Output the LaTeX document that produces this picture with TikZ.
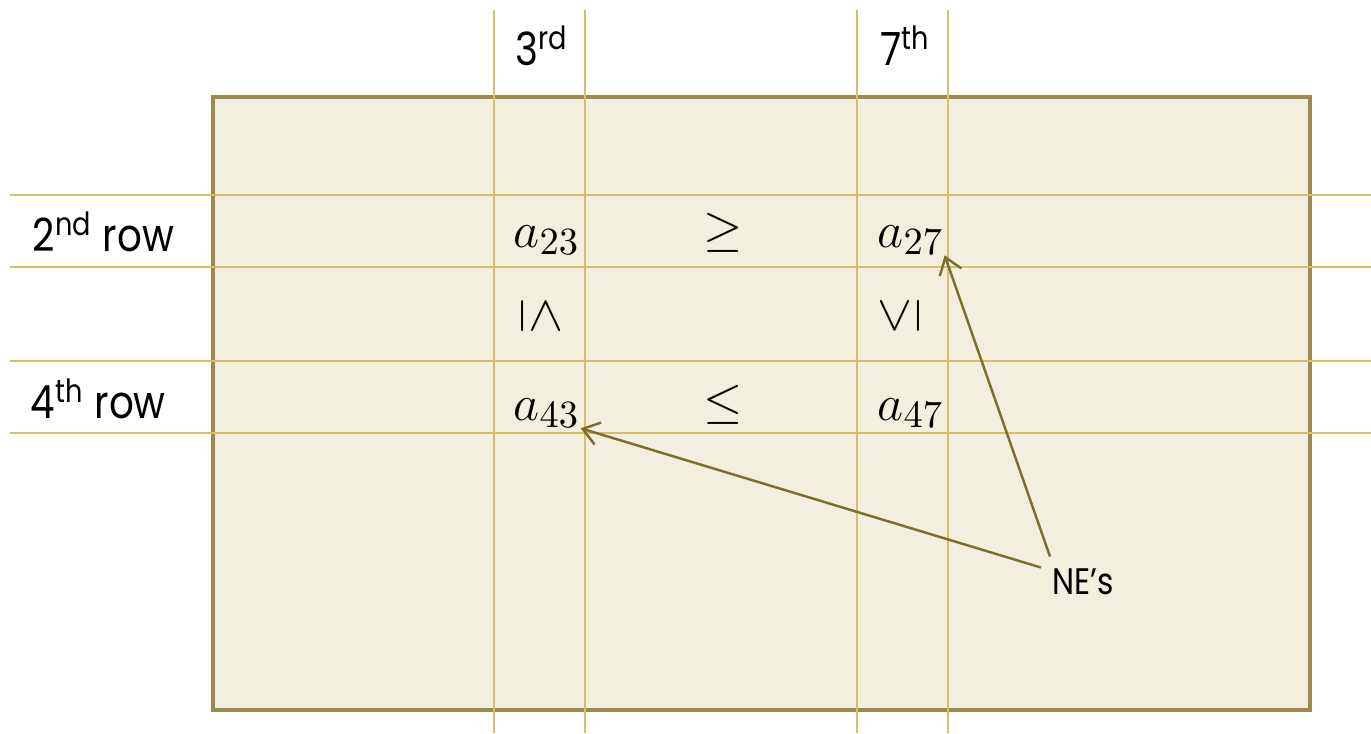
\documentclass[tikz,border=0pt]{standalone}
\usepackage{fontspec}
\setmainfont[FakeStretch=0.85]{Poppins}
\usepackage{amsmath,amssymb}
\usetikzlibrary{positioning, calc, arrows.meta}
\definecolor{boxfill}{HTML}{F3EFDF}
\definecolor{boxedge}{HTML}{9E8B4F}
\definecolor{gridgold}{HTML}{D6BF6C}
\definecolor{pointer}{HTML}{7E6E2E}
\tikzset{label/.style={inner sep=0pt, anchor=base west, font=\fontsize{13}{15}\selectfont},
entry/.style={inner sep=0pt, anchor=base west, font=\fontsize{15.5}{18}\selectfont},
rel/.style={inner sep=0pt, font=\fontsize{15.5}{18}\selectfont},
line/.style={pointer, line width=0.7pt, -{Straight Barb[length=4.5pt,width=6.5pt]}}
}
\begin{document}
\begin{tikzpicture}
\useasboundingbox (0,0) rectangle (13.71,-7.33);
\draw[boxedge, line width=1.1pt, fill=boxfill] (2.13,-0.97) rectangle (13.10,-7.10);
 % the row and column guides
\foreach \x in {4.94,5.85,8.57,9.48}
  \draw[gridgold, line width=0.6pt] (\x,-0.10) -- (\x,-7.33);
\foreach \y in {1.95,2.67,3.61,4.33}
  \draw[gridgold, line width=0.6pt] (0.10,-\y) -- (13.71,-\y);
\node[label] (c3) at (5.15,-0.65) {3\textsuperscript{rd}};
\node[label] (c7) at (8.80,-0.65) {7\textsuperscript{th}};
\node[label] (r2) at (0.32,-2.51) {2\textsuperscript{nd} row};
\node[label] (r4) at (0.30,-4.18) {4\textsuperscript{th} row};
\node[entry] (a23) at (5.13,-2.47) {$a_{23}$};
\node[entry] (a27) at (8.77,-2.47) {$a_{27}$};
\node[entry] (a43) at (5.13,-4.20) {$a_{43}$};
\node[entry] (a47) at (8.77,-4.20) {$a_{47}$};
\node[rel] (ge) at (7.23,-2.33) {$\geq$};
\node[rel] (le) at (7.23,-4.05) {$\leq$};
\node[rel, rotate=-90] (v3) at (5.41,-3.16) {$\leq$};
\node[rel, rotate=90] (v7) at (9.00,-3.16) {$\leq$};
\node[label, font=\fontsize{10.5}{12}\selectfont] (ne) at (10.52,-5.94) {NE’s};
\draw[line] ([xshift=-0.02cm,yshift=0.11cm]ne.north west) -- (a27.south east);
\draw[line] ([xshift=-0.11cm]ne.north west) -- (a43.south east);
\end{tikzpicture}
\end{document}
